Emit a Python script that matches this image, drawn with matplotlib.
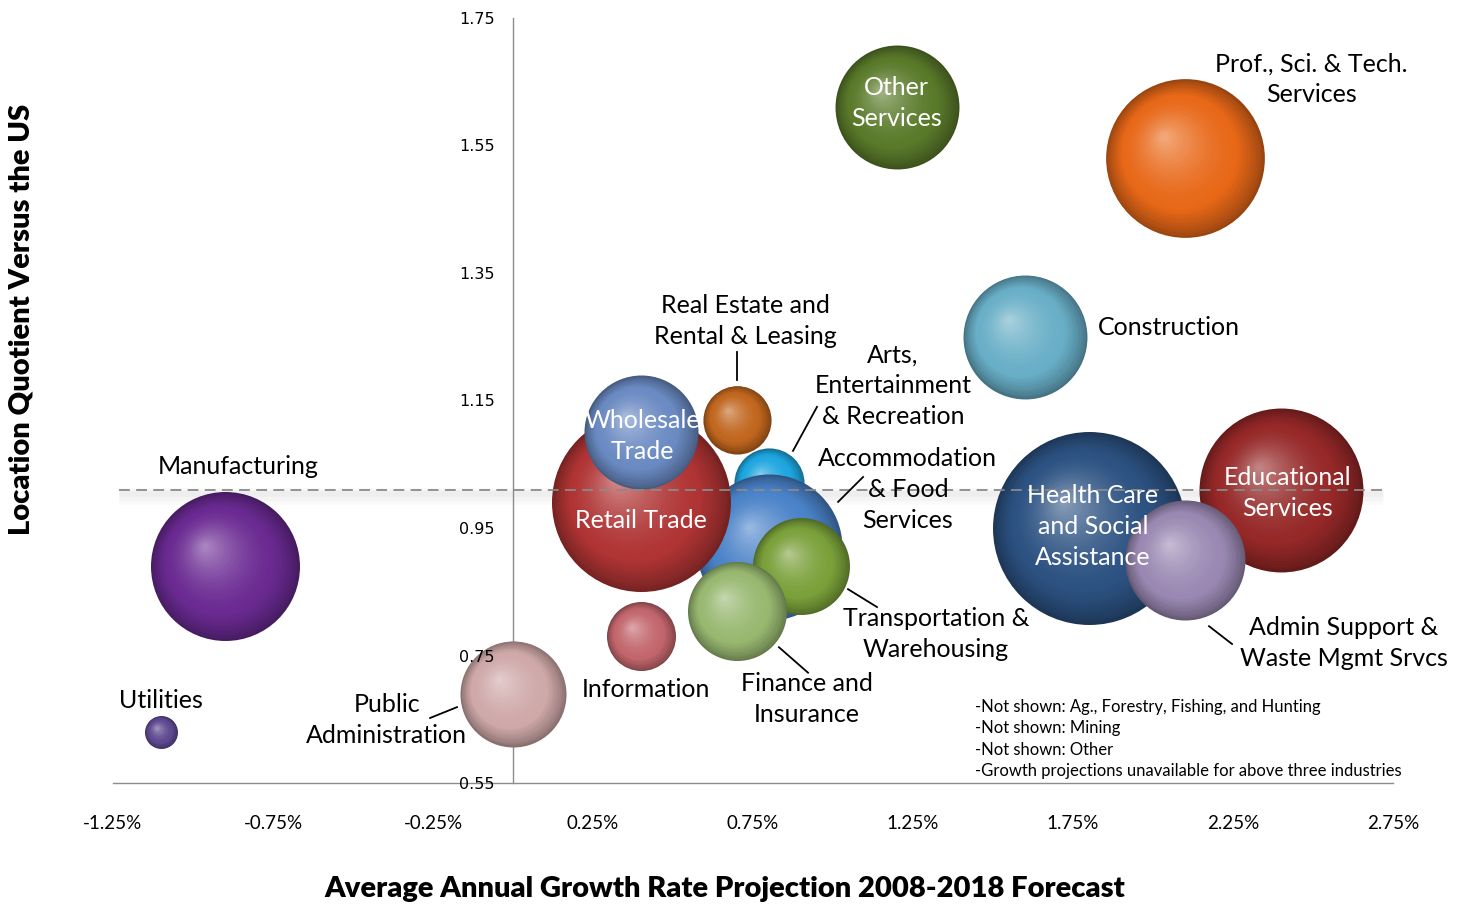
import numpy as np
import matplotlib
matplotlib.use("Agg")
import matplotlib.pyplot as plt
from matplotlib.transforms import ScaledTranslation
from matplotlib.colors import to_rgb

# ---- data (drawing order: back to front) ----
industries = [
    "Utilities", "Manufacturing", "Public Administration", "Information",
    "Real Estate and Rental & Leasing", "Arts, Entertainment & Recreation",
    "Accommodation & Food Services", "Retail Trade", "Wholesale Trade",
    "Transportation & Warehousing", "Finance and Insurance", "Other Services",
    "Prof., Sci. & Tech. Services", "Construction",
    "Health Care and Social Assistance", "Educational Services",
    "Admin Support & Waste Mgmt Srvcs",
]
growth_pct = [-1.10, -0.90, 0.00, 0.40, 0.70, 0.80, 0.80, 0.40, 0.40,
              0.90, 0.70, 1.20, 2.10, 1.60, 1.80, 2.40, 2.10]
location_quotient = [0.63, 0.89, 0.69, 0.78, 1.12, 1.02, 0.92, 0.99, 1.10,
                     0.89, 0.82, 1.61, 1.53, 1.25, 0.95, 1.01, 0.90]
employment_weight = [2.7, 55.5, 28.1, 11.9, 11.6, 12.3, 53.3, 80.1, 32.5,
                     23.5, 24.5, 38.4, 63.0, 38.4, 93.1, 67.2, 36.0]
bubble_colors = ["#5e4890", "#6a2a92", "#cfa8a8", "#c2666c", "#c0661e",
                 "#1ea6e0", "#4a82c8", "#b03434", "#6a8ac2", "#7aa03a",
                 "#98b870", "#5a7a2a", "#e86818", "#68aec6", "#2c5282",
                 "#962828", "#9a88b2"]

x_ticks = [-1.25, -0.75, -0.25, 0.25, 0.75, 1.25, 1.75, 2.25, 2.75]
y_ticks = [0.55, 0.75, 0.95, 1.15, 1.35, 1.55, 1.75]
us_reference_lq = 1.01

notes = [
    "-Not shown: Ag., Forestry, Fishing, and Hunting",
    "-Not shown: Mining",
    "-Not shown: Other",
    "-Growth projections unavailable for above three industries",
]

# label text, position, alignment, colour, optional leader segment
labels = [
    ("Utilities", (-1.10, 0.679), "center", "black", None),
    ("Manufacturing", (-0.859, 1.047), "center", "black", None),
    ("Public\nAdministration", (-0.394, 0.649), "center", "black",
     ((-0.259, 0.652), (-0.175, 0.669))),
    ("Information", (0.416, 0.696), "center", "black", None),
    ("Real Estate and\nRental & Leasing", (0.725, 1.274), "center", "black",
     ((0.70, 1.226), (0.70, 1.182))),
    ("Arts,\nEntertainment\n& Recreation", (1.1875, 1.173), "center", "black",
     ((0.875, 1.071), (0.95, 1.140))),
    ("Accommodation\n& Food\nServices", (1.234, 1.010), "center", "black",
     ((1.016, 0.991), (1.094, 1.030))),
    ("Retail Trade", (0.40, 0.961), "center", "white", None),
    ("Wholesale\nTrade", (0.403, 1.094), "center", "white", None),
    ("Transportation &\nWarehousing", (1.322, 0.784), "center", "black",
     ((1.047, 0.854), (1.1375, 0.826))),
    ("Finance and\nInsurance", (0.919, 0.682), "center", "black",
     ((0.831, 0.763), (0.922, 0.723))),
    ("Other\nServices", (1.197, 1.617), "center", "white", None),
    ("Prof., Sci. & Tech.\nServices", (2.494, 1.654), "center", "black", None),
    ("Construction", (1.828, 1.264), "left", "black", None),
    ("Health Care\nand Social\nAssistance", (1.8125, 0.953), "center", "white", None),
    ("Educational\nServices", (2.419, 1.005), "center", "white", None),
    ("Admin Support &\nWaste Mgmt Srvcs", (2.597, 0.770), "center", "black",
     ((2.175, 0.796), (2.247, 0.768))),
]

DPI = 100
fig = plt.figure(figsize=(14.68, 9.08), dpi=DPI)
ax = fig.add_axes([113 / 1468, 1 - 783 / 908, 1280 / 1468, 765 / 908])
ax.set_xlim(-1.25, 2.75)
ax.set_ylim(0.55, 1.75)

# axes styling
for side in ("top", "right"):
    ax.spines[side].set_visible(False)
ax.spines["left"].set_position(("data", 0))
ax.spines["left"].set_color("#8c8c8c")
ax.spines["bottom"].set_color("#8c8c8c")
ax.spines["left"].set_linewidth(1.0)
ax.spines["bottom"].set_linewidth(1.0)
ax.set_xticks(x_ticks)
ax.set_xticklabels([f"{v:.2f}%" for v in x_ticks], family="Lato", fontsize=13.5)
ax.set_yticks(y_ticks)
ax.set_yticklabels([f"{v:.2f}" for v in y_ticks], family="DejaVu Sans", fontsize=11.5)
ax.tick_params(axis="x", length=0, pad=23)
ax.tick_params(axis="y", length=0, pad=13)
ax.yaxis.set_zorder(80)  # tick labels sit on top of the bubbles

# soft shadow under the reference line
for w, a, off in [(12, 0.05, -6), (8, 0.06, -5), (4, 0.07, -4)]:
    tr = ax.transData + ScaledTranslation(0, off / DPI, fig.dpi_scale_trans)
    ax.plot([-1.23, 2.72], [us_reference_lq] * 2, color="#a0a0a0",
            lw=w, alpha=a, transform=tr, zorder=1, solid_capstyle="butt")


def draw_sphere(x, y, weight, base, z):
    """Shaded sphere built from stacked discs with an upper-left highlight."""
    radius_px = 10.0 * np.sqrt(weight)
    base = np.array(to_rgb(base))
    light = base + (1 - base) * 0.42
    dark = base * 0.66
    n = 40
    for i in range(n):
        t = i / (n - 1)
        r = radius_px * (1 - 0.96 * t)
        if t < 0.28:
            c = dark + (base - dark) * (t / 0.28) ** 0.8
        else:
            u = (t - 0.28) / 0.72
            c = base + (light - base) * u ** 1.6
        dx = -0.27 * radius_px * t
        dy = 0.27 * radius_px * t
        tr = ax.transData + ScaledTranslation(dx / DPI, dy / DPI, fig.dpi_scale_trans)
        ax.scatter([x], [y], s=(2 * r * 72 / DPI) ** 2, color=np.clip(c, 0, 1),
                   linewidths=0, transform=tr, zorder=z, clip_on=False)


for k, (gx, lq, wgt, col) in enumerate(zip(growth_pct, location_quotient,
                                           employment_weight, bubble_colors)):
    draw_sphere(gx, lq, wgt, col, 3 + k)

# dashed reference line (LQ of the US)
ax.plot([-1.23, 2.72], [us_reference_lq] * 2, color="#8a8a8a", lw=1.3,
        ls=(0, (6, 3.5)), zorder=40)

# bubble labels and leader lines
for text, (lx, ly), ha, col, seg in labels:
    ax.text(lx, ly, text, ha=ha, va="center", fontsize=18, family="Lato",
            color=col, linespacing=1.42, zorder=60)
    if seg is not None:
        (x0, y0), (x1, y1) = seg
        ax.plot([x0, x1], [y0, y1], color="black", lw=1.3, zorder=55)

# footnotes
for i, line in enumerate(notes):
    py = 707 + i * 21.4
    ax.text(1.444, 1.75 - (py - 18) / 637.5, line, ha="left", va="center",
            fontsize=12, family="Lato", color="black", zorder=60)

# axis titles
fig.text(725 / 1468, 1 - 889 / 908,
         "Average Annual Growth Rate Projection 2008-2018 Forecast",
         ha="center", va="center", fontsize=21, family="Lato", weight="heavy")
fig.text(22 / 1468, 1 - 319 / 908, "Location Quotient Versus the US",
         ha="center", va="center", rotation=90, fontsize=21, family="Lato",
         weight="heavy")

fig.savefig("out.png", dpi=DPI)
